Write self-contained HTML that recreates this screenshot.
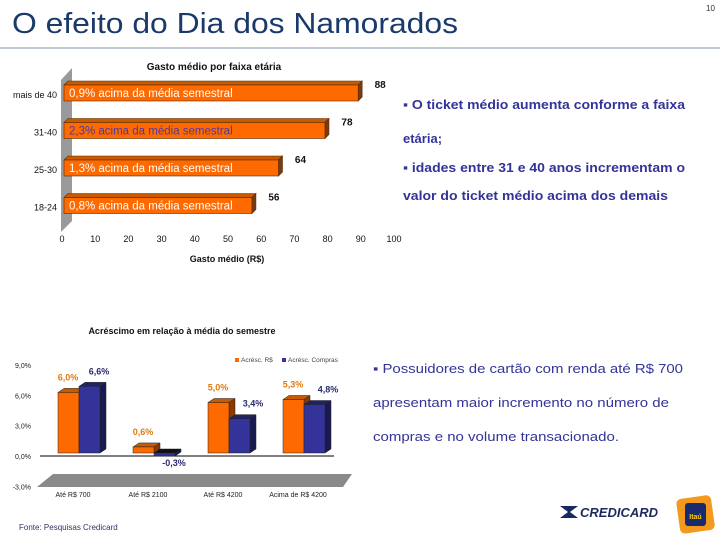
<!DOCTYPE html>
<html><head><meta charset="utf-8"><style>
body{margin:0;background:#fff;}
svg{display:block;font-family:"Liberation Sans",sans-serif;}
</style></head><body>
<svg width="720" height="540" viewBox="0 0 720 540">
<text x="12" y="33" font-size="29" fill="#1a3a6b" textLength="446" lengthAdjust="spacingAndGlyphs">O efeito do Dia dos Namorados</text>
<text x="706" y="11" font-size="8" fill="#333">10</text>
<line x1="0" y1="48" x2="720" y2="48" stroke="#8090a8" stroke-width="1"/>

<g id="topc"></g>
<g id="botc"></g>

<g fill="#333399" font-size="13" font-weight="bold">
<text x="403" y="109" textLength="282" lengthAdjust="spacingAndGlyphs">▪ O ticket médio aumenta conforme a faixa</text>
<text x="403" y="143">etária;</text>
<text x="403" y="172" textLength="282" lengthAdjust="spacingAndGlyphs">▪ idades entre 31 e 40 anos incrementam o</text>
<text x="403" y="200" textLength="265" lengthAdjust="spacingAndGlyphs">valor do ticket médio acima dos demais</text>
</g>
<g fill="#333399" font-size="13">
<text x="373" y="373" textLength="310" lengthAdjust="spacingAndGlyphs">▪ Possuidores de cartão com renda até R$ 700</text>
<text x="373" y="407" textLength="296" lengthAdjust="spacingAndGlyphs">apresentam maior incremento no número de</text>
<text x="373" y="441" textLength="246" lengthAdjust="spacingAndGlyphs">compras e no volume transacionado.</text>
</g>
<text x="19" y="530" font-size="8" fill="#333366">Fonte: Pesquisas Credicard</text>
<g>
<path d="M560 506 L578 506 L570 512 L578 518 L560 518 L568 512 Z" fill="#1a2a5e"/>
<text x="580" y="517" font-size="13" font-weight="bold" font-style="italic" fill="#1a2a5e">CREDICARD</text>
</g>
<g>
<rect x="678" y="497" width="35" height="35" rx="5" fill="#f39a1e" transform="rotate(-8 695 514)"/>
<rect x="685" y="503" width="21" height="23" rx="3" fill="#1a2a6e"/>
<text x="695.5" y="519" font-size="7" font-weight="bold" fill="#ffd000" text-anchor="middle">Itaú</text>
</g>
</svg>
<script>
const ageCats=["mais de 40","31-40","25-30","18-24"];
const ageValues=[88,78,64,56];
const ageNotes=["0,9% acima da média semestral","2,3% acima da média semestral","1,3% acima da média semestral","0,8% acima da média semestral"];
const ageTicks=[0,10,20,30,40,50,60,70,80,90,100];
const incCats=["Até R$ 700","Até R$ 2100","Até R$ 4200","Acima de R$ 4200"];
const incSpend=[6.0,0.6,5.0,5.3];
const incBuys=[6.6,-0.3,3.4,4.8];
const incTicks=[9,6,3,0,-3];

const NS="http://www.w3.org/2000/svg";
function mk(p,t,a,txt){const e=document.createElementNS(NS,t);for(const k in a)e.setAttribute(k,a[k]);if(txt!==undefined)e.textContent=txt;p.appendChild(e);return e;}

const topG=document.getElementById('topc');
const xs=v=>62+v*3.32;
const ys=i=>85+i*37.5;
let t=mk(topG,'text',{x:214,y:70,'font-size':10,'font-weight':'bold','text-anchor':'middle',fill:'#111'},'Gasto médio por faixa etária');


let w=mk(topG,'polygon',{points:'61,232 61,80 72,68 72,221',fill:'#9a9a9a'});


ageTicks.forEach(v=>{const e=mk(topG,'text',{x:xs(v),y:242,'font-size':9,'text-anchor':'middle',fill:'#111'},String(v));

});
t=mk(topG,'text',{x:227,y:262,'font-size':9,'font-weight':'bold','text-anchor':'middle',fill:'#111'},'Gasto médio (R$)');


ageCats.forEach((c,i)=>{
 const y=ys(i),x2=xs(ageValues[i]);
 const g=mk(topG,'g',{});
 
 
 mk(g,'polygon',{points:`64,${y} 68,${y-4} ${x2+8},${y-4} ${x2+4},${y}`,fill:'#c85a00',stroke:'#5a2a00','stroke-width':0.6});
 mk(g,'polygon',{points:`${x2+4},${y} ${x2+8},${y-4} ${x2+8},${y+12} ${x2+4},${y+16}`,fill:'#7a3a10',stroke:'#5a2a00','stroke-width':0.6});
 mk(g,'rect',{x:64,y:y,width:x2-60,height:16,fill:'#ff6a00',stroke:'#5a2a00','stroke-width':0.6});
 const n=mk(g,'text',{x:69,y:y+12,'font-size':11.5,fill:i==1?'#4a3aa0':'#fff'},ageNotes[i]);
 
 
 const v=mk(g,'text',{x:x2+26,y:y+3,'font-size':10,'font-weight':'bold','text-anchor':'middle',fill:'#111'},String(ageValues[i]));
 
 
 const l=mk(topG,'text',{x:57,y:y+13,'font-size':9,'text-anchor':'end',fill:'#111'},c);
 
 
});

const botG=document.getElementById('botc');
const y0=453,per=10.1;
const yv=v=>y0-v*per;
const gx=i=>58+i*75;
t=mk(botG,'text',{x:182,y:334,'font-size':9,'font-weight':'bold','text-anchor':'middle',fill:'#111'},'Acréscimo em relação à média do semestre');


let f=mk(botG,'polygon',{points:'37,487 53,474 352,474 343,487',fill:'#8a8a8a'});


const fmt=v=>(v<0?'-':'')+Math.abs(v).toFixed(1).replace('.',',')+'%';
incTicks.forEach(v=>{const e=mk(botG,'text',{x:31,y:yv(v)+6,'font-size':7,'text-anchor':'end',fill:'#222'},fmt(v));

});
let ax=mk(botG,'line',{x1:40,y1:456,x2:334,y2:456,stroke:'#000','stroke-width':1});


function bar3d(x,v,front,topc,side,name){
 const g=mk(botG,'g',{});
 
 
 const yt=Math.min(yv(v),y0),yb=Math.max(yv(v),y0),bw=21,d=6,h=4;
 mk(g,'polygon',{points:`${x},${yt} ${x+d},${yt-h} ${x+bw+d},${yt-h} ${x+bw},${yt}`,fill:topc,stroke:'#222','stroke-width':0.5});
 mk(g,'polygon',{points:`${x+bw},${yt} ${x+bw+d},${yt-h} ${x+bw+d},${yb-h} ${x+bw},${yb}`,fill:side,stroke:'#222','stroke-width':0.5});
 mk(g,'rect',{x:x,y:yt,width:bw,height:Math.max(yb-yt,1),fill:front,stroke:'#222','stroke-width':0.5});
}
incCats.forEach((c,i)=>{
 bar3d(gx(i),incSpend[i],'#ff6a00','#c85a00','#8a3a00','bar-spend');
 bar3d(gx(i)+21,incBuys[i],'#33339a',incBuys[i]<0?'#111':'#22226a','#1a1a50','bar-purchases');
});
incCats.forEach((c,i)=>{
 const a=mk(botG,'text',{x:gx(i)+10,y:yv(incSpend[i])-12,'font-size':9,'font-weight':'bold','text-anchor':'middle',fill:'#e07a10'},fmt(incSpend[i]));
 
 
 const by=incBuys[i]<0?y0+13:yv(incBuys[i])-12;
 const bx=gx(i)+(i==0?41:(incBuys[i]<0?41:45));
 const b=mk(botG,'text',{x:bx,y:by,'font-size':9,'font-weight':'bold','text-anchor':'middle',fill:'#2a2a70'},fmt(incBuys[i]));
 
 
 const l=mk(botG,'text',{x:gx(i)+15,y:497,'font-size':7,'text-anchor':'middle',fill:'#222'},c);
 
 
});
const lg=mk(botG,'g',{});


mk(lg,'rect',{x:235,y:358,width:4,height:4,fill:'#ff6a00'});
mk(lg,'text',{x:241,y:362,'font-size':6.5,fill:'#444'},'Acrésc. R$');
mk(lg,'rect',{x:282,y:358,width:4,height:4,fill:'#33339a'});
mk(lg,'text',{x:288,y:362,'font-size':6.5,fill:'#444'},'Acrésc. Compras');
</script>
</body></html>
